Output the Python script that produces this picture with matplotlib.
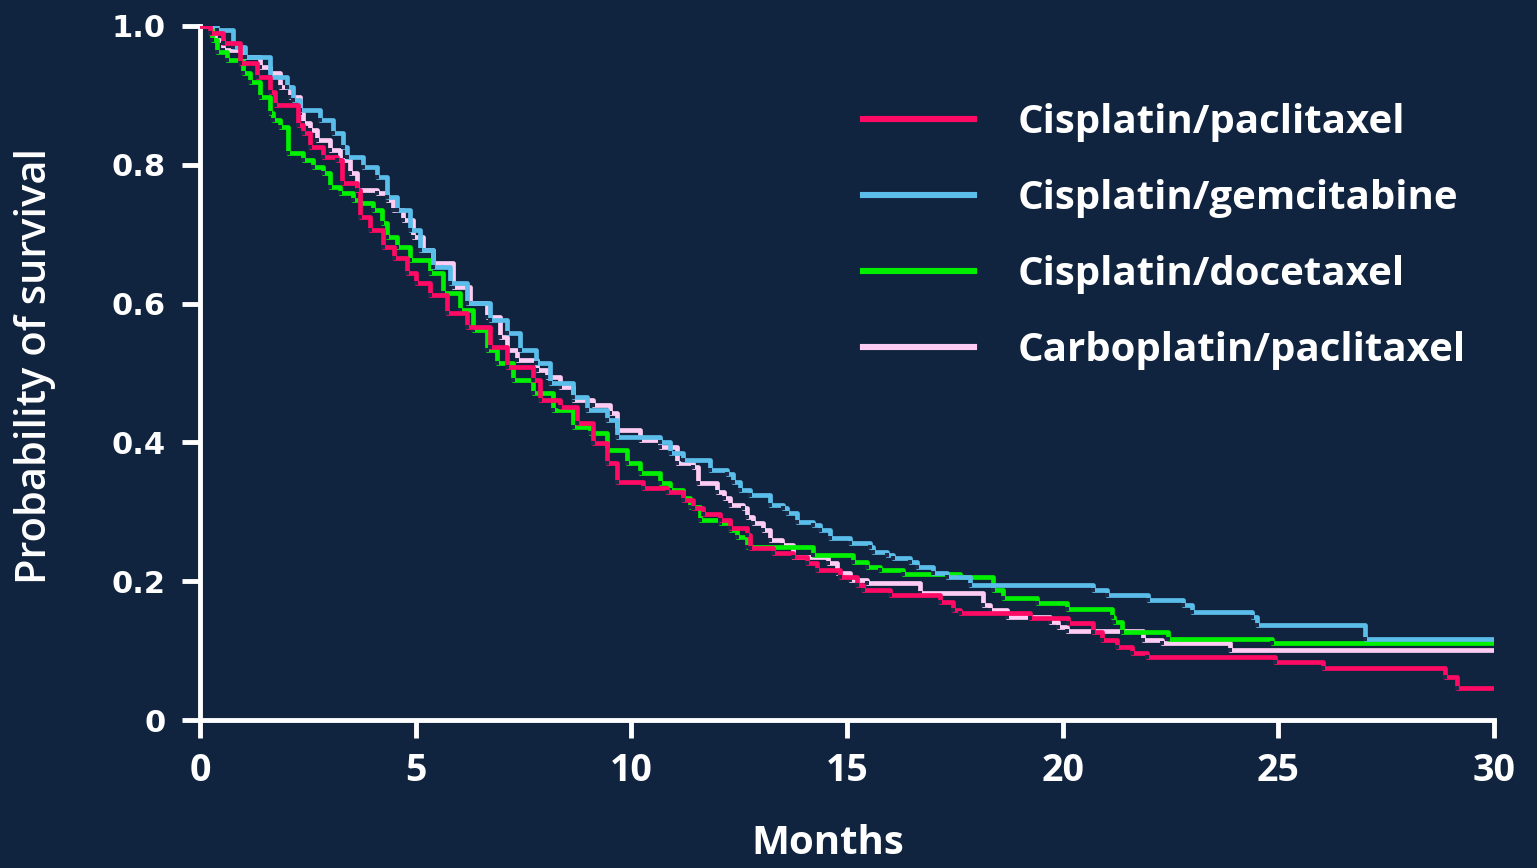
import matplotlib.pyplot as plt

# Kaplan-Meier curves (months, survival probability)
cp_t = [0, 0.23, 0.53, 0.93, 1.32, 1.62, 1.74, 2.27, 2.39, 2.55, 2.85, 3.18, 3.29, 3.64, 3.7,
        3.94, 4.24, 4.5, 4.8, 5.0, 5.33, 5.73, 6.19, 6.72, 7.12, 7.72, 7.88, 8.35, 8.74, 9.11,
        9.44, 9.67, 10.27, 10.83, 11.2, 11.43, 11.66, 12.06, 12.29, 12.68, 12.75, 13.29, 13.75,
        14.07, 14.3, 14.84, 15.23, 15.37, 16.0, 17.16, 17.46, 17.62, 19.24, 20.13, 20.7, 20.91,
        21.26, 21.6, 21.95, 24.92, 26.04, 28.87, 29.14, 30]
cp_s = [1.0, 0.99, 0.975, 0.947, 0.927, 0.905, 0.886, 0.857, 0.846, 0.826, 0.811, 0.807, 0.774,
        0.764, 0.725, 0.706, 0.682, 0.665, 0.644, 0.63, 0.612, 0.586, 0.566, 0.537, 0.509, 0.49,
        0.461, 0.451, 0.428, 0.399, 0.37, 0.343, 0.334, 0.329, 0.317, 0.305, 0.297, 0.288, 0.277,
        0.267, 0.248, 0.241, 0.235, 0.226, 0.216, 0.206, 0.195, 0.187, 0.18, 0.17, 0.159, 0.154,
        0.147, 0.14, 0.127, 0.115, 0.105, 0.097, 0.091, 0.084, 0.075, 0.062, 0.046, 0.046]

cg_t = [0, 0.39, 0.77, 1.04, 1.62, 2.02, 2.16, 2.32, 2.78, 3.08, 3.32, 3.41, 3.78, 4.1, 4.34,
        4.57, 4.87, 5.1, 5.4, 5.8, 6.19, 6.72, 7.12, 7.42, 7.8, 8.11, 8.65, 8.97, 9.44, 9.67,
        10.67, 10.9, 11.2, 11.82, 12.22, 12.36, 12.52, 12.75, 13.22, 13.52, 13.6, 13.84, 14.21,
        14.38, 14.61, 15.07, 15.53, 15.6, 15.93, 16.07, 16.46, 16.62, 17.0, 17.32, 17.85, 20.7,
        21.03, 21.98, 22.8, 23.0, 24.4, 24.5, 27.0, 30]
cg_s = [1.0, 0.994, 0.97, 0.955, 0.927, 0.912, 0.893, 0.879, 0.865, 0.846, 0.826, 0.811, 0.797,
        0.782, 0.754, 0.735, 0.706, 0.677, 0.653, 0.63, 0.601, 0.576, 0.558, 0.533, 0.514, 0.486,
        0.466, 0.447, 0.432, 0.408, 0.4, 0.385, 0.375, 0.36, 0.355, 0.343, 0.331, 0.324, 0.31,
        0.305, 0.298, 0.285, 0.281, 0.274, 0.262, 0.255, 0.249, 0.242, 0.238, 0.233, 0.228, 0.22,
        0.212, 0.206, 0.195, 0.187, 0.18, 0.173, 0.166, 0.156, 0.148, 0.137, 0.117, 0.117]

cd_t = [0, 0.28, 0.39, 0.63, 1.0, 1.16, 1.39, 1.62, 1.69, 1.85, 2.04, 2.39, 2.62, 2.85, 3.01,
        3.25, 3.55, 3.71, 4.01, 4.22, 4.34, 4.57, 4.87, 5.33, 5.63, 6.03, 6.33, 6.65, 6.89, 7.26,
        7.72, 8.18, 8.65, 9.04, 9.44, 9.9, 10.2, 10.67, 10.9, 11.2, 11.36, 11.59, 12.06, 12.29,
        12.45, 12.68, 14.21, 15.14, 15.46, 15.77, 16.3, 17.62, 18.39, 18.62, 19.4, 20.1, 21.15,
        21.2, 21.37, 22.44, 24.86, 30]
cd_s = [1.0, 0.98, 0.963, 0.951, 0.932, 0.919, 0.898, 0.875, 0.865, 0.854, 0.817, 0.807, 0.797,
        0.788, 0.768, 0.759, 0.749, 0.745, 0.735, 0.716, 0.696, 0.682, 0.663, 0.644, 0.615, 0.591,
        0.562, 0.533, 0.514, 0.49, 0.471, 0.447, 0.422, 0.414, 0.389, 0.37, 0.356, 0.341, 0.331,
        0.32, 0.307, 0.288, 0.284, 0.274, 0.264, 0.249, 0.238, 0.228, 0.22, 0.216, 0.21, 0.206,
        0.187, 0.176, 0.169, 0.16, 0.148, 0.141, 0.127, 0.117, 0.111, 0.111]

kp_t = [0, 0.35, 0.53, 1.0, 1.39, 1.62, 1.85, 2.09, 2.32, 2.39, 2.55, 2.71, 3.01, 3.25, 3.48,
        3.64, 4.1, 4.34, 4.47, 4.71, 4.94, 5.17, 5.4, 5.87, 6.26, 6.65, 6.96, 7.12, 7.35, 7.81,
        8.05, 8.35, 8.65, 9.11, 9.51, 9.67, 10.2, 10.67, 11.06, 11.43, 11.55, 11.98, 12.14, 12.29,
        12.6, 12.68, 12.83, 13.06, 13.22, 13.5, 13.75, 14.56, 14.77, 15.07, 15.46, 16.69, 18.15,
        18.32, 18.7, 19.7, 19.9, 20.1, 21.87, 22.3, 23.88, 30]
kp_s = [1.0, 0.98, 0.965, 0.955, 0.941, 0.932, 0.912, 0.898, 0.875, 0.86, 0.85, 0.836, 0.821,
        0.807, 0.788, 0.764, 0.759, 0.749, 0.735, 0.72, 0.696, 0.677, 0.658, 0.624, 0.601, 0.581,
        0.552, 0.533, 0.519, 0.504, 0.494, 0.48, 0.461, 0.454, 0.442, 0.418, 0.403, 0.393, 0.37,
        0.365, 0.341, 0.329, 0.32, 0.31, 0.305, 0.293, 0.284, 0.274, 0.259, 0.252, 0.235, 0.226,
        0.212, 0.202, 0.197, 0.183, 0.166, 0.159, 0.148, 0.141, 0.134, 0.128, 0.115, 0.111, 0.101,
        0.101]

labels = ["Cisplatin/paclitaxel", "Cisplatin/gemcitabine", "Cisplatin/docetaxel",
          "Carboplatin/paclitaxel"]
colors = ["#ff0a64", "#5bbdea", "#00f000", "#ffccf4"]

x_ticks = [0, 5, 10, 15, 20, 25, 30]
y_ticks = [0, 0.2, 0.4, 0.6, 0.8, 1.0]
y_ticklabels = ["0", "0.2", "0.4", "0.6", "0.8", "1.0"]

bg = "#11243f"

fig = plt.figure(figsize=(15.37, 8.68), dpi=100, facecolor=bg)
ax = fig.add_axes([200 / 1537, 1 - 720 / 868, 1294 / 1537, 694 / 868])
ax.set_facecolor(bg)

series = [(cp_t, cp_s), (cg_t, cg_s), (cd_t, cd_s), (kp_t, kp_s)]
# draw back to front so the first series sits on top like in the original
for i in [3, 2, 1, 0]:
    t, s = series[i]
    ax.step(t, s, where="post", color=colors[i], lw=3.4, label=labels[i], zorder=3 + (3 - i))
    ax.plot(t[1:-1], s[1:-1], ls="none", marker="s", ms=2.2, mew=0, mfc="#1c2c48",
            zorder=3 + (3 - i))

ax.set_xlim(0, 30)
ax.set_ylim(0, 1.0)

for side in ["top", "right"]:
    ax.spines[side].set_visible(False)
for side in ["left", "bottom"]:
    ax.spines[side].set_color("white")
    ax.spines[side].set_linewidth(3.5)

ax.set_xticks(x_ticks)
ax.set_xticklabels([str(v) for v in x_ticks], fontfamily="Open Sans", fontweight="bold",
                   fontsize=27, color="white")
ax.set_yticks(y_ticks)
ax.set_yticklabels(y_ticklabels, fontfamily="DejaVu Sans", fontweight="bold", fontsize=22,
                   color="white")
ax.tick_params(axis="x", length=13, width=3.5, color="white", pad=10)
ax.tick_params(axis="y", length=13, width=3.5, color="white", pad=12)

ax.set_xlabel("Months", fontfamily="Open Sans", fontweight="bold", fontsize=29, color="white")
ax.xaxis.set_label_coords(628 / 1294, -104 / 694)
ax.set_ylabel("Probability of survival", fontfamily="Open Sans", fontweight="semibold",
              fontsize=30, color="white")
ax.yaxis.set_label_coords(-144 / 1294, 0.51)

handles, labs = ax.get_legend_handles_labels()
order = [labs.index(l) for l in labels]
leg = ax.legend([handles[k] for k in order], labels, loc="upper left",
                bbox_to_anchor=(863 / 1537, 1 - 103 / 868), bbox_transform=fig.transFigure,
                frameon=False, borderpad=0, borderaxespad=0, handlelength=2.75,
                handletextpad=1.1, labelspacing=0.92,
                prop={"family": "Open Sans", "weight": "bold", "size": 29})
for txt in leg.get_texts():
    txt.set_color("white")
for ln in leg.get_lines():
    ln.set_linewidth(4.4)

fig.savefig("out.png", dpi=100, facecolor=bg)
